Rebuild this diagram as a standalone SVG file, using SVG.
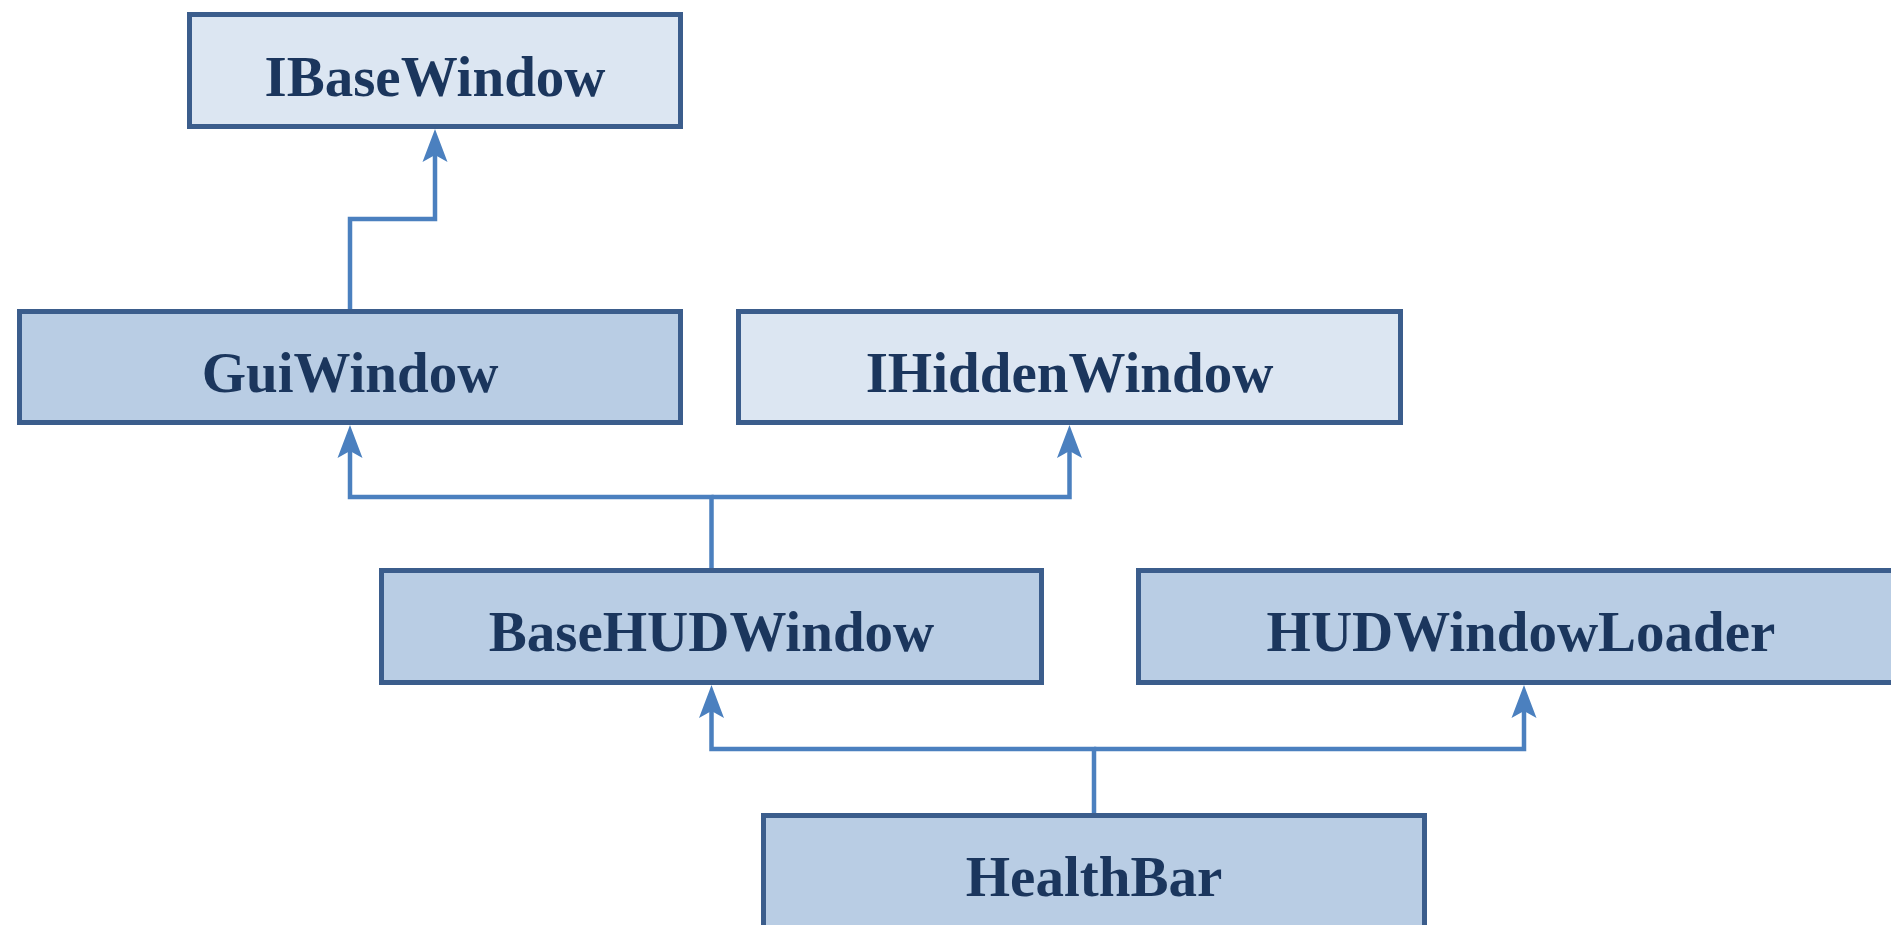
<svg xmlns="http://www.w3.org/2000/svg" width="1891" height="925" viewBox="0 0 1891 925">
<style>
.box{stroke:#3b5d8c;stroke-width:5}
.iface{fill:#dce6f2}
.cls{fill:#b9cde4}
.lbl{font-family:"Liberation Serif","Times New Roman",serif;font-weight:bold;font-size:57px;fill:#1b365d;text-anchor:middle}
.conn{fill:none;stroke:#4b80bf;stroke-width:4.5}
</style>
<defs>
<marker id="arr" markerUnits="userSpaceOnUse" orient="auto" refX="-8" refY="0" markerWidth="40" markerHeight="40" overflow="visible">
<path d="M0,0 L-33,-12.5 L-26,0 L-33,12.5 Z" fill="#4b80bf"/>
</marker>
</defs>
<rect width="1891" height="925" fill="#ffffff"/>
<g id="connectors">
<path class="conn" d="M350,309 V219 H435 V137" marker-end="url(#arr)"/>
<path class="conn" d="M711.5,568 V497 H350 V433" marker-end="url(#arr)"/>
<path class="conn" d="M711.5,497 H1069.5 V433" marker-end="url(#arr)"/>
<path class="conn" d="M1094,813 V749 H711.5 V693" marker-end="url(#arr)"/>
<path class="conn" d="M1094,749 H1524 V693" marker-end="url(#arr)"/>
</g>
<g id="IBaseWindow">
<rect class="box iface" x="189.5" y="14.5" width="491" height="112"/>
<text class="lbl" x="435" y="96">IBaseWindow</text>
</g>
<g id="GuiWindow">
<rect class="box cls" x="19.5" y="311.5" width="661" height="111"/>
<text class="lbl" x="350" y="392">GuiWindow</text>
</g>
<g id="IHiddenWindow">
<rect class="box iface" x="738.5" y="311.5" width="662" height="111"/>
<text class="lbl" x="1069.5" y="392">IHiddenWindow</text>
</g>
<g id="BaseHUDWindow">
<rect class="box cls" x="381.5" y="570.5" width="660" height="112"/>
<text class="lbl" x="711.5" y="651">BaseHUDWindow</text>
</g>
<g id="HUDWindowLoader">
<rect class="box cls" x="1138.5" y="570.5" width="772" height="112"/>
<text class="lbl" x="1521" y="651">HUDWindowLoader</text>
</g>
<g id="HealthBar">
<rect class="box cls" x="763.5" y="815.5" width="661" height="130"/>
<text class="lbl" x="1094" y="896">HealthBar</text>
</g>
</svg>
